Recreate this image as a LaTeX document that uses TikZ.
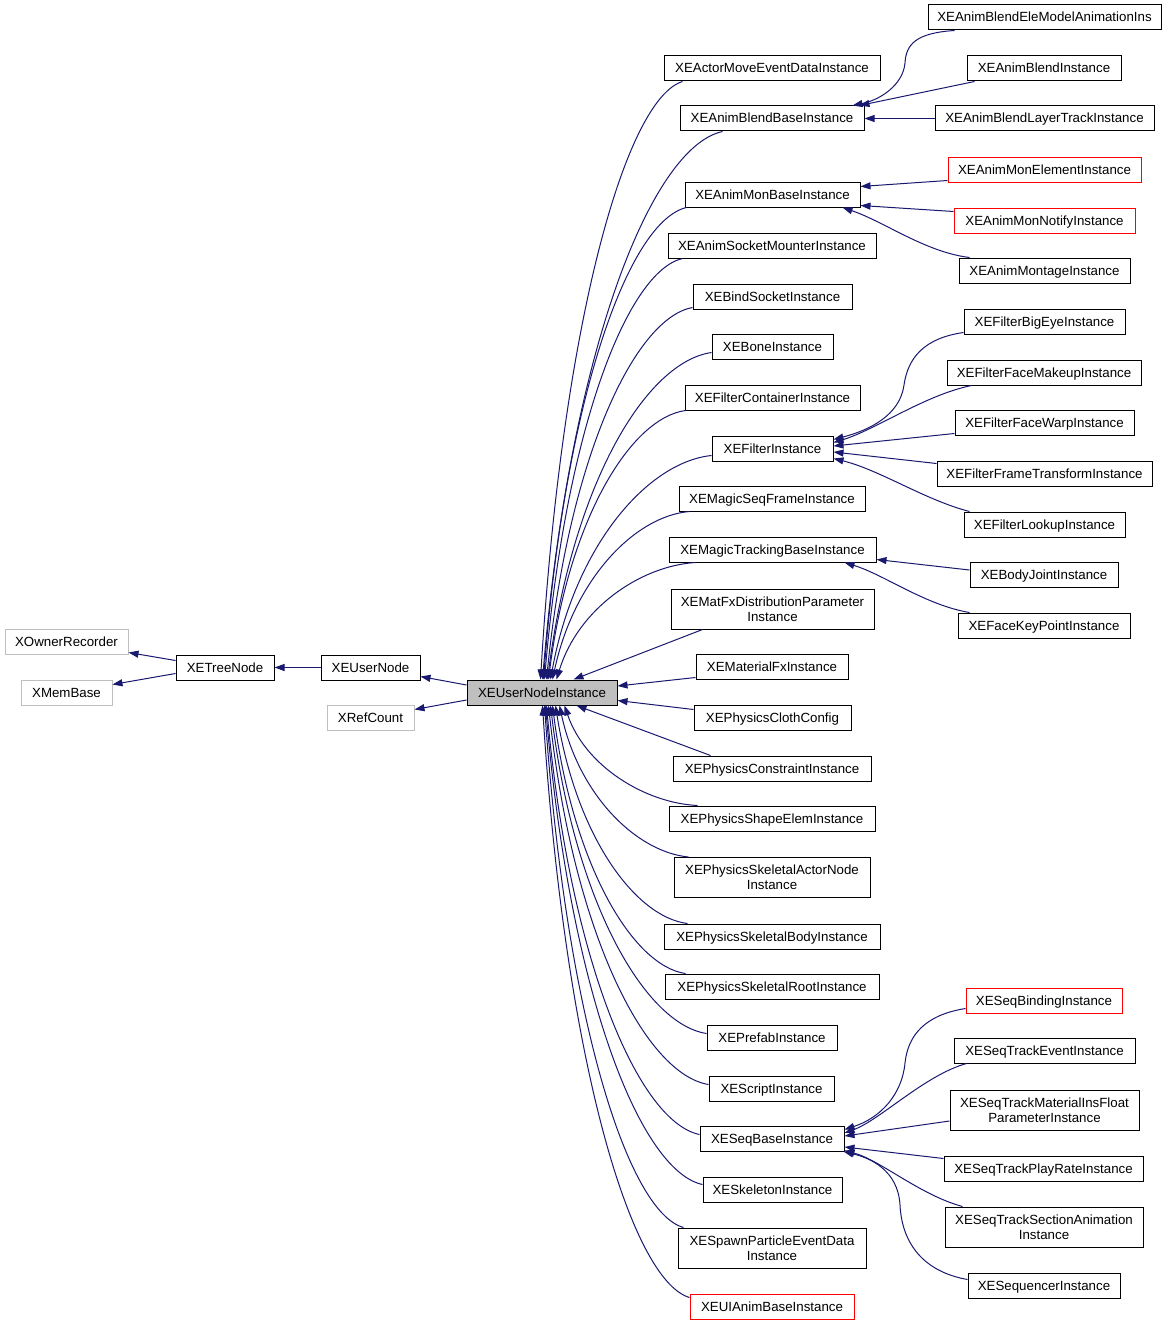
\documentclass[tikz,border=0pt]{standalone}
\usepackage{fontspec}
\setmainfont{Liberation Sans}
\usetikzlibrary{arrows.meta,calc}
\definecolor{mb}{HTML}{191970}
\definecolor{gb}{HTML}{BFBFBF}
\begin{document}
\begin{tikzpicture}[x=1pt,y=-1pt,
  box/.style={draw=black,line width=1pt,fill=white,inner sep=0pt,minimum height=25pt,align=center,text height=9.5pt,text depth=0.5pt,font=\fontsize{13.3}{15}\selectfont},
  tall/.style={minimum height=40pt,text height=,text depth=},
  gbox/.style={box,draw=gb},
  rbox/.style={box,draw=red},
  inh/.style={draw=mb,line width=1pt,-{Triangle[length=10pt,width=7pt]}}]
\path[use as bounding box,fill=white] (0,0) rectangle (1167,1327);
% left
\node[gbox,minimum width=123pt] (xo) at (66.5,641.5) {XOwnerRecorder};
\node[gbox,minimum width=91pt] (xm) at (66.5,692.5) {XMemBase};
\node[box,minimum width=98pt] (tn) at (225,667.5) {XETreeNode};
\node[box,minimum width=99pt] (un) at (370.5,667.5) {XEUserNode};
\node[gbox,minimum width=87pt] (rc) at (370.5,717.5) {XRefCount};
\node[box,fill=gb,minimum width=150pt] (ui) at (542,692.5) {XEUserNodeInstance};
% middle
\node[box,minimum width=216pt] (am) at (772,68.5) {XEActorMoveEventDataInstance};
\node[box,minimum width=184pt] (abb) at (772,118.5) {XEAnimBlendBaseInstance};
\node[box,minimum width=175pt] (amb) at (772.5,194.5) {XEAnimMonBaseInstance};
\node[box,minimum width=208pt] (asm) at (772,245.5) {XEAnimSocketMounterInstance};
\node[box,minimum width=159pt] (bs) at (772.5,296.5) {XEBindSocketInstance};
\node[box,minimum width=121pt] (bo) at (772.5,346.5) {XEBoneInstance};
\node[box,minimum width=175pt] (fc) at (772.5,397.5) {XEFilterContainerInstance};
\node[box,minimum width=121pt] (fi) at (772.5,448.5) {XEFilterInstance};
\node[box,minimum width=186pt] (msf) at (772,498.5) {XEMagicSeqFrameInstance};
\node[box,minimum width=207pt] (mtb) at (772.5,549.5) {XEMagicTrackingBaseInstance};
\node[box,tall,minimum width=203pt] (mfx) at (772.5,609) {XEMatFxDistributionParameter\\Instance};
\node[box,minimum width=152pt] (mat) at (772,666.5) {XEMaterialFxInstance};
\node[box,minimum width=157pt] (pcc) at (772.5,717.5) {XEPhysicsClothConfig};
\node[box,minimum width=198pt] (pci) at (772,768.5) {XEPhysicsConstraintInstance};
\node[box,minimum width=206pt] (pse) at (772,818.5) {XEPhysicsShapeElemInstance};
\node[box,tall,minimum width=196pt] (psa) at (772,877.5) {XEPhysicsSkeletalActorNode\\Instance};
\node[box,minimum width=216pt] (psb) at (772,936.5) {XEPhysicsSkeletalBodyInstance};
\node[box,minimum width=214pt] (psr) at (772,986.5) {XEPhysicsSkeletalRootInstance};
\node[box,minimum width=130pt] (pre) at (772,1037.5) {XEPrefabInstance};
\node[box,minimum width=125pt] (scr) at (771.5,1088.5) {XEScriptInstance};
\node[box,minimum width=144pt] (sb) at (772,1138.5) {XESeqBaseInstance};
\node[box,minimum width=139pt] (ske) at (772.5,1189.5) {XESkeletonInstance};
\node[box,tall,minimum width=188pt] (spe) at (772,1248) {XESpawnParticleEventData\\Instance};
\node[rbox,minimum width=164pt] (uia) at (772,1306.5) {XEUIAnimBaseInstance};
% right
\node[box,minimum width=233pt] (bem) at (1044.5,17.5) {XEAnimBlendEleModelAnimationIns};
\node[box,minimum width=154pt] (bi) at (1044,68.5) {XEAnimBlendInstance};
\node[box,minimum width=219pt] (blt) at (1044.5,118.5) {XEAnimBlendLayerTrackInstance};
\node[rbox,minimum width=193pt] (mel) at (1044.5,169.5) {XEAnimMonElementInstance};
\node[rbox,minimum width=181pt] (mno) at (1044.5,220.5) {XEAnimMonNotifyInstance};
\node[box,minimum width=171pt] (mon) at (1044.5,270.5) {XEAnimMontageInstance};
\node[box,minimum width=161pt] (fbe) at (1044.5,321.5) {XEFilterBigEyeInstance};
\node[box,minimum width=194pt] (ffm) at (1044,372.5) {XEFilterFaceMakeupInstance};
\node[box,minimum width=179pt] (ffw) at (1044.5,422.5) {XEFilterFaceWarpInstance};
\node[box,minimum width=215pt] (fft) at (1044.5,473.5) {XEFilterFrameTransformInstance};
\node[box,minimum width=161pt] (flu) at (1044.5,524.5) {XEFilterLookupInstance};
\node[box,minimum width=148pt] (bj) at (1044,574.5) {XEBodyJointInstance};
\node[box,minimum width=172pt] (fk) at (1044,625.5) {XEFaceKeyPointInstance};
\node[rbox,minimum width=156pt] (sbi) at (1044,1000.5) {XESeqBindingInstance};
\node[box,minimum width=181pt] (ste) at (1044.5,1050.5) {XESeqTrackEventInstance};
\node[box,tall,minimum width=189pt] (smi) at (1044.5,1110) {XESeqTrackMaterialInsFloat\\ParameterInstance};
\node[box,minimum width=199pt] (spr) at (1043.5,1168.5) {XESeqTrackPlayRateInstance};
\node[box,tall,minimum width=198pt] (ssa) at (1044,1227) {XESeqTrackSectionAnimation\\Instance};
\node[box,minimum width=152pt] (seq) at (1044,1285.5) {XESequencerInstance};
% left edges
\draw[inh] ($(tn.west)+(0,-7)$) -- ($(xo.south east)+(0,-2)$);
\draw[inh] ($(tn.west)+(0,6)$) -- ($(xm.north east)+(0,5)$);
\draw[inh] (un.west) -- (tn.east);
\draw[inh] ($(ui.west)+(0,-7.5)$) -- ($(un.south east)+(0,-4)$);
\draw[inh] ($(ui.west)+(0,7.5)$) -- ($(rc.north east)+(0,5)$);
% upper children of ui
\draw[inh] ($(am.south west)+(19,0)$) .. controls (626,99) and (562,321) .. ($(ui.north west)+(74,0)$);
\draw[inh] ($(abb.south west)+(43,0)$) .. controls (651,147) and (570,351) .. ($(ui.north west)+(76,0)$);
\draw[inh] ($(amb.south west)+(2,0)$) .. controls (629,221) and (565,396) .. ($(ui.north west)+(77,0)$);
\draw[inh] ($(asm.south west)+(15,0)$) .. controls (628,271) and (566,427) .. ($(ui.north west)+(78,0)$);
\draw[inh] ($(bs.south west)+(0,-2)$) .. controls (635,318) and (569,456) .. ($(ui.north west)+(80,0)$);
\draw[inh] ($(bo.south west)+(0,-7)$) .. controls (646,362) and (573,483) .. ($(ui.north west)+(81,0)$);
\draw[inh] ($(fc.south west)+(1,0)$) .. controls (631,418) and (569,518) .. ($(ui.north west)+(82,0)$);
\draw[inh] ($(fi.south west)+(0,-6)$) .. controls (648,462) and (575,545) .. ($(ui.north west)+(84,0)$);
\draw[inh] ($(msf.south west)+(11,0)$) .. controls (635,516) and (574,579) .. ($(ui.north west)+(86,0)$);
\draw[inh] ($(mtb.south west)+(27,0)$) .. controls (640,566) and (578,609) .. ($(ui.north west)+(90,0)$);
\draw[inh] ($(mfx.south west)+(32,0)$) -- ($(ui.north west)+(107,0)$);
\draw[inh] ($(mat.south west)+(0,-2)$) -- ($(ui.east)+(0,-6.5)$);
\draw[inh] ($(pcc.north west)+(0,5)$) -- ($(ui.east)+(0,8)$);
% lower children of ui
\draw[inh] ($(pci.north west)+(38,0)$) -- ($(ui.south west)+(110,0)$);
\draw[inh] ($(pse.north west)+(29,0)$) .. controls (645,803) and (585,766) .. ($(ui.south west)+(98,0)$);
\draw[inh] ($(psa.north west)+(15,0)$) .. controls (637,852) and (579,796) .. ($(ui.south west)+(93,0)$);
\draw[inh] ($(psb.north west)+(24,0)$) .. controls (635,917) and (576,836) .. ($(ui.south west)+(89,0)$);
\draw[inh] ($(psr.north west)+(21,0)$) .. controls (633,966) and (573,866) .. ($(ui.south west)+(86,0)$);
\draw[inh] ($(pre.north west)+(0,9)$) .. controls (645,1024) and (574,902) .. ($(ui.south west)+(84,0)$);
\draw[inh] ($(scr.north west)+(0,9)$) .. controls (645,1074) and (573,933) .. ($(ui.south west)+(82,0)$);
\draw[inh] ($(sb.north west)+(0,9)$) .. controls (639,1122) and (570,963) .. ($(ui.south west)+(80,0)$);
\draw[inh] ($(ske.north west)+(0,8)$) .. controls (640,1171) and (570,993) .. ($(ui.south west)+(79,0)$);
\draw[inh] ($(spe.north west)+(6,0)$) .. controls (628,1212) and (566,1019) .. ($(ui.south west)+(78,0)$);
\draw[inh] ($(uia.north west)+(0,4)$) .. controls (631,1280) and (565,1061) .. ($(ui.south west)+(76,0)$);
% AnimBlendBase children
\draw[inh] ($(bem.south west)+(27,0)$) .. controls (915,33) and (906,45) .. (905,63) .. controls (903,85) and (880,100) .. ($(abb.north west)+(173,0)$);
\draw[inh] ($(bi.south west)+(8,0)$) -- ($(abb.north west)+(180,0)$);
\draw[inh] (blt.west) -- (abb.east);
% AnimMonBase children
\draw[inh] ($(mel.south west)+(0,-2)$) -- ($(amb.north east)+(0,5)$);
\draw[inh] ($(mno.north west)+(0,4)$) -- ($(amb.south east)+(0,-2)$);
\draw[inh] ($(mon.north west)+(11,0)$) .. controls (925,252) and (885,222) .. ($(amb.south west)+(158,0)$);
% Filter children
\draw[inh] ($(fbe.south west)+(0,-2)$) .. controls (925,338) and (908,357) .. (904,385) .. controls (900,415) and (870,430) .. ($(fi.north east)+(0,4)$);
\draw[inh] ($(ffm.south west)+(25,0)$) .. controls (925,395) and (875,430) .. ($(fi.east)+(0,-6)$);
\draw[inh] ($(ffw.south west)+(0,-2)$) -- ($(fi.east)+(0,-2.5)$);
\draw[inh] ($(fft.north west)+(0,3)$) -- ($(fi.east)+(0,3.5)$);
\draw[inh] ($(flu.north west)+(6,0)$) .. controls (925,500) and (880,470) .. ($(fi.south east)+(0,-3)$);
% MagicTracking children
\draw[inh] ($(bj.west)+(0,-4.5)$) -- ($(mtb.east)+(0,10)$);
\draw[inh] ($(fk.north west)+(12,0)$) .. controls (925,605) and (885,575) .. ($(mtb.south west)+(176,0)$);
% SeqBase children
\draw[inh] ($(sbi.south west)+(0,-5)$) .. controls (925,1015) and (908,1035) .. (905,1063) .. controls (902,1095) and (880,1118) .. ($(sb.north east)+(0,4)$);
\draw[inh] ($(ste.south west)+(13,0)$) .. controls (925,1075) and (880,1120) .. ($(sb.east)+(0,-5.5)$);
\draw[inh] ($(smi.west)+(0,11)$) -- ($(sb.east)+(0,-2.5)$);
\draw[inh] ($(spr.north west)+(0,3)$) -- ($(sb.east)+(0,8.5)$);
\draw[inh] ($(ssa.north west)+(18,0)$) .. controls (920,1195) and (880,1160) .. ($(sb.south east)+(0,-1)$);
\draw[inh] ($(seq.north west)+(0,7)$) .. controls (925,1272) and (902,1245) .. (900,1205) .. controls (898,1170) and (870,1158) .. ($(sb.south east)+(-1,0)$);
\end{tikzpicture}
\end{document}
